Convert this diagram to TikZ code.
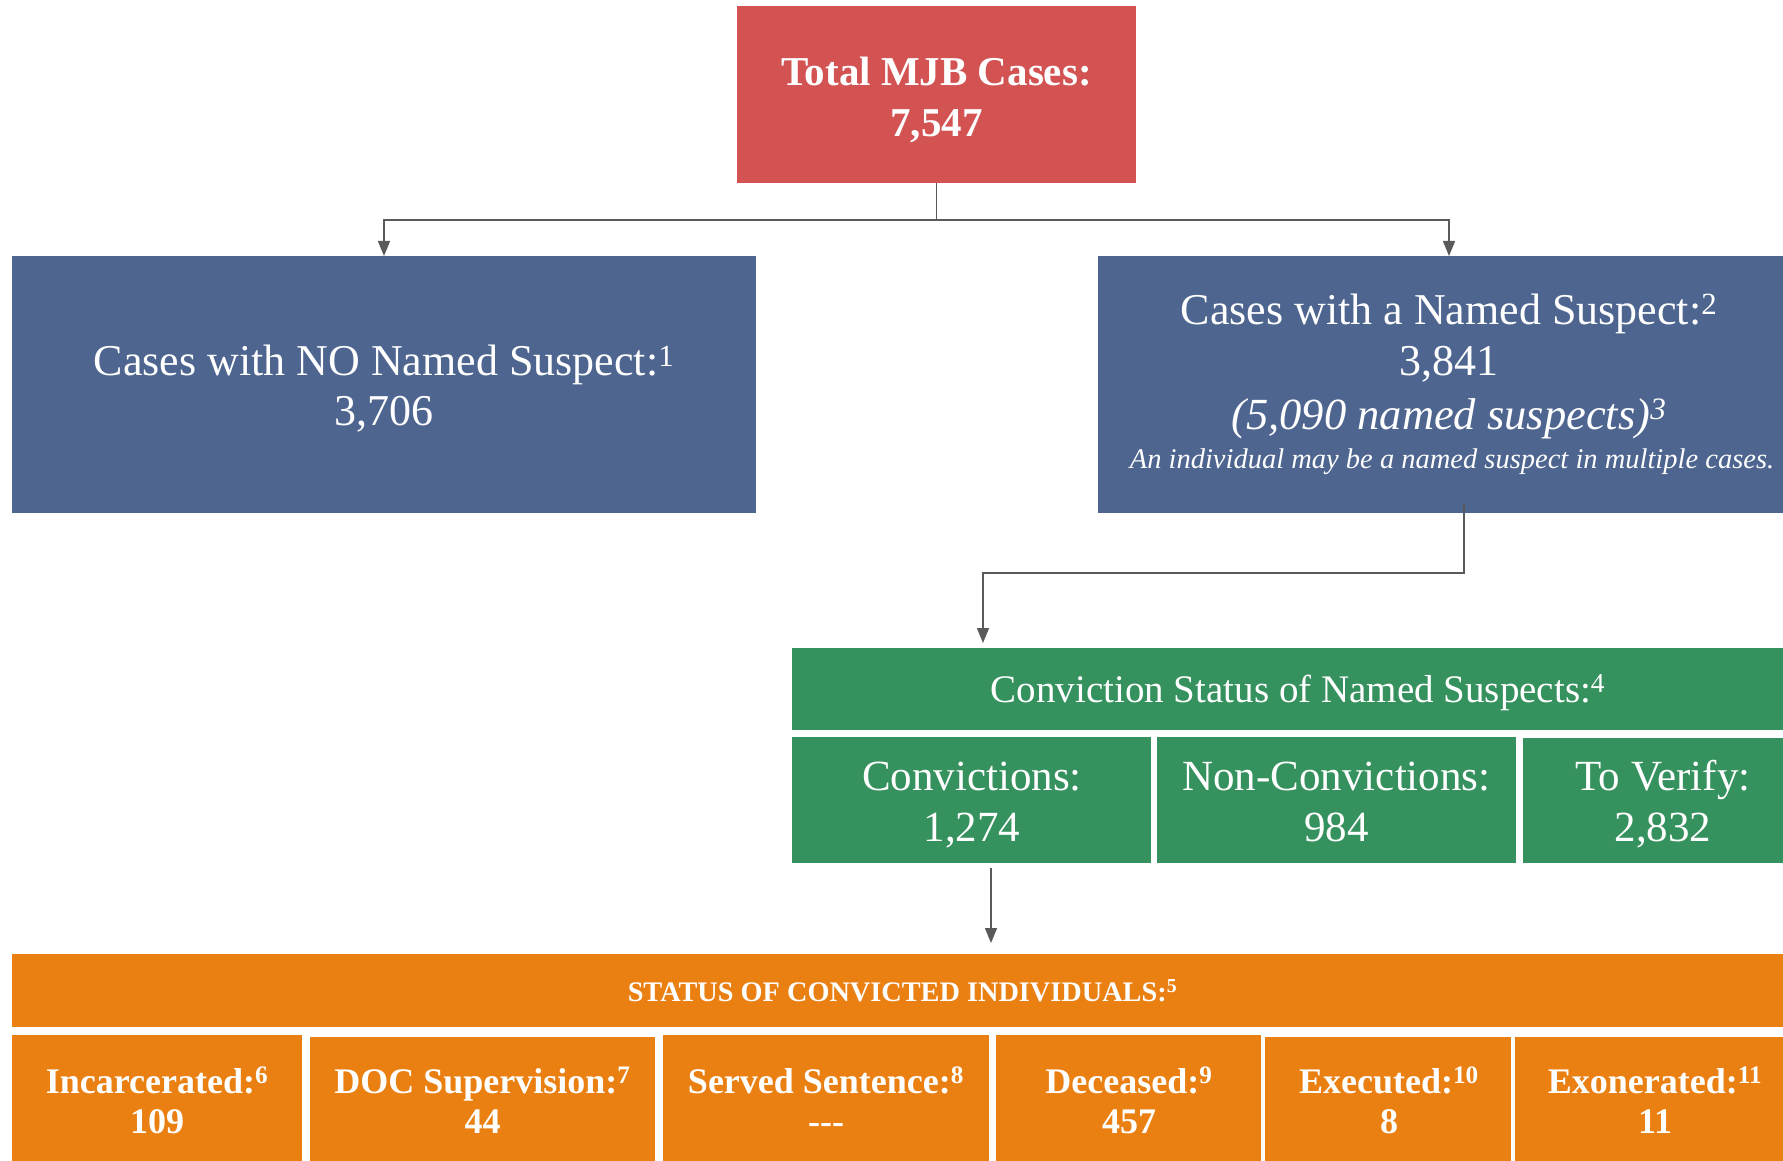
\documentclass[tikz,border=0pt]{standalone}
\usepackage{fontspec}
\setmainfont{Liberation Serif}
\usetikzlibrary{arrows.meta}
\definecolor{mjbred}{HTML}{D35353}
\definecolor{mjbblue}{HTML}{4E6590}
\definecolor{mjbgreen}{HTML}{35925E}
\definecolor{mjborange}{HTML}{EA7F12}
\definecolor{conngray}{HTML}{5A5A5A}
\begin{document}
\begin{tikzpicture}[x=1pt,y=-1pt,
  box/.style={rectangle,draw=none,inner sep=0pt,outer sep=0pt},
  txt/.style={text=white,anchor=base,inner sep=0pt,outer sep=0pt},
  redtxt/.style={txt,font=\bfseries\fontsize{41}{49}\selectfont},
  bluetxt/.style={txt,font=\fontsize{44}{50}\selectfont},
  blueit/.style={txt,font=\itshape\fontsize{44.5}{54}\selectfont},
  bluesmall/.style={txt,font=\itshape\fontsize{28.5}{34}\selectfont},
  greenhead/.style={txt,font=\fontsize{39}{46}\selectfont},
  greentxt/.style={txt,font=\fontsize{43}{50}\selectfont},
  orangehead/.style={txt,font=\bfseries\fontsize{28.3}{34}\selectfont},
  orangetxt/.style={txt,font=\bfseries\fontsize{36}{40}\selectfont},
  conn/.style={draw=conngray,line width=1.5pt,-{Triangle[width=12pt,length=15pt]}}]
\useasboundingbox (0,0) rectangle (1783,1161);
\fill[white] (0,0) rectangle (1783,1161);
\clip (0,0) rectangle (1783,1161);

% boxes
\node[box,fill=mjbred,minimum width=399pt,minimum height=177pt] (total) at (936.5,94.5) {};
\node[box,fill=mjbblue,minimum width=744pt,minimum height=257pt] (nonamed) at (384,384.5) {};
\node[box,fill=mjbblue,minimum width=702pt,minimum height=257pt] (named) at (1449,384.5) {};
\node[box,fill=mjbgreen,minimum width=1003pt,minimum height=82pt] (convstatus) at (1293.5,689) {};
\node[box,fill=mjbgreen,minimum width=359pt,minimum height=126pt] (conv) at (971.5,800) {};
\node[box,fill=mjbgreen,minimum width=359pt,minimum height=126pt] (nonconv) at (1336.5,800) {};
\node[box,fill=mjbgreen,minimum width=277pt,minimum height=125pt] (verify) at (1661.5,800.5) {};
\node[box,fill=mjborange,minimum width=1783pt,minimum height=73pt] (convicted) at (903.5,990.5) {};
\node[box,fill=mjborange,minimum width=290pt,minimum height=130pt] (incar) at (157,1100) {};
\node[box,fill=mjborange,minimum width=345pt,minimum height=128pt] (docsup) at (482.5,1101) {};
\node[box,fill=mjborange,minimum width=326pt,minimum height=130pt] (served) at (826,1100) {};
\node[box,fill=mjborange,minimum width=265pt,minimum height=130pt] (deceased) at (1128.5,1100) {};
\node[box,fill=mjborange,minimum width=246pt,minimum height=128pt] (executed) at (1388,1101) {};
\node[box,fill=mjborange,minimum width=280pt,minimum height=128pt] (exon) at (1655,1101) {};

% texts
\node[redtxt] (totalA) at (936.5,86) {Total MJB Cases:};
\node[redtxt] (totalB) at (936.5,137) {7,547};

\node[bluetxt] (nonamedA) at (384,375.5) {Cases with NO Named Suspect:\textsuperscript{1}};
\node[bluetxt] (nonamedB) at (384,425) {3,706};

\node[bluetxt] (namedA) at (1449,324) {Cases with a Named Suspect:\textsuperscript{2}};
\node[bluetxt] (namedB) at (1449,375) {3,841};
\node[blueit] (namedC) at (1449,429) {(5,090 named suspects)\textsuperscript{3}};
\node[bluesmall] (namedD) at (1452,468) {An individual may be a named suspect in multiple cases.};

\node[greenhead] (convstatusT) at (1298,702) {Conviction Status of Named Suspects:\textsuperscript{4}};
\node[greentxt] (convA) at (972,790) {Convictions:};
\node[greentxt] (convB) at (972,841) {1,274};
\node[greentxt] (nonconvA) at (1336.5,790) {Non-Convictions:};
\node[greentxt] (nonconvB) at (1336.5,841) {984};
\node[greentxt] (verifyA) at (1663,790) {To Verify:};
\node[greentxt] (verifyB) at (1663,841) {2,832};

\node[orangehead] (convictedT) at (902.5,1001.6) {STATUS OF CONVICTED INDIVIDUALS:\textsuperscript{5}};
\node[orangetxt] (incarA) at (157,1093) {Incarcerated:\textsuperscript{6}};
\node[orangetxt] (incarB) at (157,1133) {109};
\node[orangetxt] (docsupA) at (482.5,1093) {DOC Supervision:\textsuperscript{7}};
\node[orangetxt] (docsupB) at (482.5,1133) {44};
\node[orangetxt] (servedA) at (826,1093) {Served Sentence:\textsuperscript{8}};
\node[orangetxt] (servedB) at (826,1133) {-{}-{}-};
\node[orangetxt] (deceasedA) at (1129,1093) {Deceased:\textsuperscript{9}};
\node[orangetxt] (deceasedB) at (1129,1133) {457};
\node[orangetxt] (executedA) at (1389,1093) {Executed:\textsuperscript{10}};
\node[orangetxt] (executedB) at (1389,1133) {8};
\node[orangetxt] (exonA) at (1655,1093) {Exonerated:\textsuperscript{11}};
\node[orangetxt] (exonB) at (1655,1133) {11};

% connectors
\coordinate (split) at (936.5,220);
\draw[conn] (total.south) -- (split) -| (nonamed.north);
\draw[conn] (total.south) -- (split) -| (named.north);
\coordinate (nsFrom) at (1464,503);
\coordinate (nsBend) at (1464,573);
\coordinate (csTo) at (983,643);
\draw[conn] (nsFrom) -- (nsBend) -| (csTo);
\coordinate (cvFrom) at (991,868);
\coordinate (scTo) at (991,943);
\draw[conn] (cvFrom) -- (scTo);
\end{tikzpicture}
\end{document}
